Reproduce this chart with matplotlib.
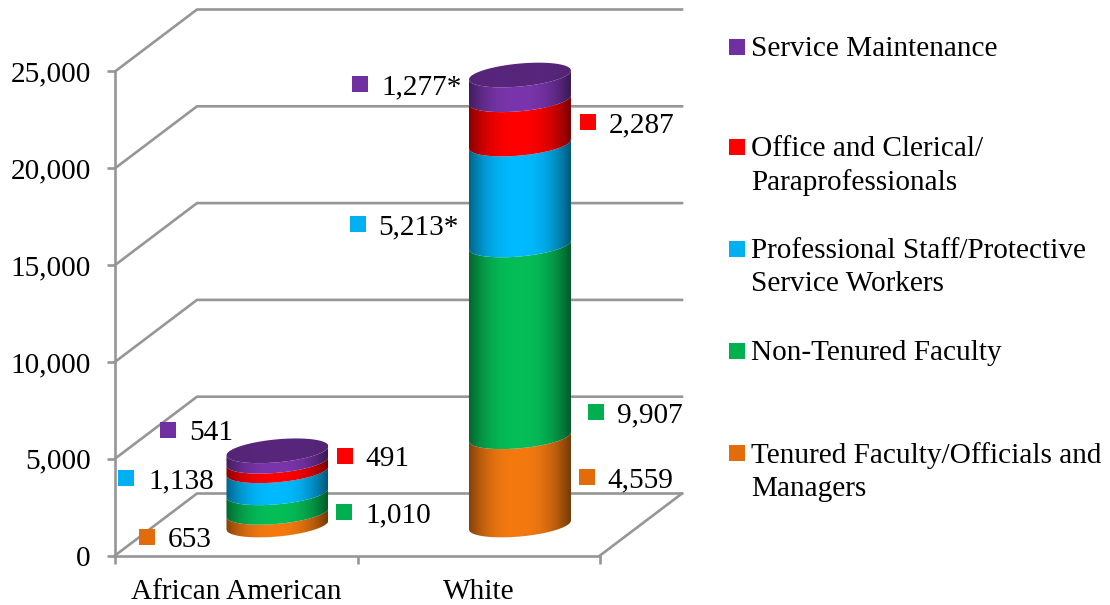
import numpy as np
import matplotlib
matplotlib.use("Agg")
import matplotlib.pyplot as plt
from matplotlib.patches import Polygon

plt.rcParams["font.family"] = ["Liberation Serif", "DejaVu Serif"]

categories = ["African American", "White"]
series_names = ["Tenured Faculty/Officials and\nManagers", "Non-Tenured Faculty",
                "Professional Staff/Protective\nService Workers",
                "Office and Clerical/\nParaprofessionals", "Service Maintenance"]
african_american = [653, 1010, 1138, 491, 541]
white = [4559, 9907, 5213, 2287, 1277]
white_starred = [False, False, True, False, True]
y_ticks = [0, 5000, 10000, 15000, 20000, 25000]

WIDTH, HEIGHT = 1110, 605
FS = 21.1

bar_colors = ["#F47A10", "#05BE58", "#00BAFF", "#FF0000", "#7A35AC"]
key_colors = ["#E36C0A", "#00B050", "#00B0F0", "#FF0000", "#7030A0"]
grid_color = "#969696"

# pixel spots of the value labels (marker x, marker y, text x)
aa_spots = [(147, 537, 168), (344, 512, 365), (126, 478, 148), (345, 456, 365), (168, 430, 189)]
white_spots = [(587, 477, 607), (596, 412, 617), (358, 224, 378), (588, 122, 609), (360, 84, 381)]
key_y = [453, 351, 249, 147, 47]


def px(x, y):
    return x / WIDTH, 1 - y / HEIGHT


fig = plt.figure(figsize=(WIDTH / 100, HEIGHT / 100), dpi=100)
ax = fig.add_axes([115 / WIDTH, 1 - 555.5 / HEIGHT, 485 / WIDTH, 484 / HEIGHT])
ax.set_xlim(0, 2)
ax.set_ylim(0, 25000)
ax.patch.set_visible(False)

# depth of the 3d box, in data units
depth_x = 82 / 242.5
depth_y = 62 / (484 / 25000)

for v in y_ticks:
    ax.plot([0, depth_x, 2 + depth_x], [v, v + depth_y, v + depth_y],
            color=grid_color, lw=1.9, clip_on=False, zorder=1, solid_joinstyle="miter")
ax.plot([2, 2 + depth_x], [0, depth_y], color=grid_color, lw=1.9, clip_on=False, zorder=1)

for side in ["top", "right"]:
    ax.spines[side].set_visible(False)
for side in ["left", "bottom"]:
    ax.spines[side].set_color(grid_color)
    ax.spines[side].set_linewidth(1.9)

ax.set_yticks(y_ticks)
ax.set_yticklabels([f"{v:,}" for v in y_ticks], fontsize=FS, color="black")
ax.set_xticks([0, 1, 2])
ax.set_xticklabels([])
ax.set_xticks([0.5, 1.5], minor=True)
ax.set_xticklabels(categories, minor=True, fontsize=FS, color="black")
ax.tick_params(axis="y", length=6, width=1.9, color=grid_color, pad=11.5)
ax.tick_params(axis="x", which="major", length=6, width=1.9, color=grid_color)
ax.tick_params(axis="x", which="minor", length=0, pad=17)

# cylinder shape, data units
half_w = 51 / 242.5
rim = 11.5 / (484 / 25000)
skew = 4.5 / (484 / 25000)
floor_lift = 30.5 / (484 / 25000)


def rim_edge(cx, v, t):
    return cx + half_w * t, v + skew * t - rim * np.sqrt(1 - t ** 2)


def shade_image(color, cx, low, high, shape, strength=1.0, edge=0.5):
    t = np.linspace(-1, 1, 300)
    f = (1 - edge * np.abs(t + 0.03) ** 2.4) * strength
    rgb = np.array(matplotlib.colors.to_rgb(color))
    img = np.clip(f[None, :, None] * rgb[None, None, :], 0, 1)
    im = ax.imshow(img, extent=(cx - half_w, cx + half_w, low, high), aspect="auto",
                   interpolation="bilinear", zorder=3, origin="lower")
    patch = Polygon(shape, closed=True, transform=ax.transData, fc="none", ec="none")
    im.set_clip_box(fig.bbox)
    im.set_clip_path(patch)


def draw_cylinder(cx, values):
    t = np.linspace(-1, 1, 200)
    bottom = floor_lift
    for value, color in zip(values, bar_colors):
        top = bottom + value
        xb, yb = rim_edge(cx, bottom, t)
        xt, yt = rim_edge(cx, top, t)
        shape = np.column_stack([np.r_[xb, xt[::-1]], np.r_[yb, yt[::-1]]])
        shade_image(color, cx, bottom - 2 * rim, top + 2 * rim, shape)
        bottom = top
    # lid
    xl, yl = rim_edge(cx, bottom, t)
    yu = 2 * (bottom + skew * t) - yl
    lid = np.column_stack([np.r_[xl, xl[::-1]], np.r_[yl, yu[::-1]]])
    shade_image(bar_colors[-1], cx, bottom - 2 * rim, bottom + 2 * rim, lid, strength=0.72, edge=0.06)


draw_cylinder(0.67, african_american)
draw_cylinder(1.67, white)
ax.set_xlim(0, 2)
ax.set_ylim(0, 25000)


def draw_label(spot, text, color):
    mx, my, tx = spot
    fig.add_artist(plt.Line2D(*zip(px(mx, my)), marker="s", ms=11, mew=0, color=color,
                              transform=fig.transFigure))
    fig.text(*px(tx, my + 3), text, fontsize=FS, va="center", ha="left", color="black")


for i, color in enumerate(key_colors):
    draw_label(aa_spots[i], f"{african_american[i]:,}", color)
    star = "*" if white_starred[i] else ""
    draw_label(white_spots[i], f"{white[i]:,}{star}", color)

# legend
for name, y, color in zip(series_names, key_y, key_colors):
    fig.add_artist(plt.Line2D(*zip(px(737, y)), marker="s", ms=11, mew=0, color=color,
                              transform=fig.transFigure))
    fig.text(*px(751, y - 10.5), name, fontsize=FS, va="top", ha="left",
             color="black", linespacing=1.33)

fig.savefig("out.png", dpi=100)
